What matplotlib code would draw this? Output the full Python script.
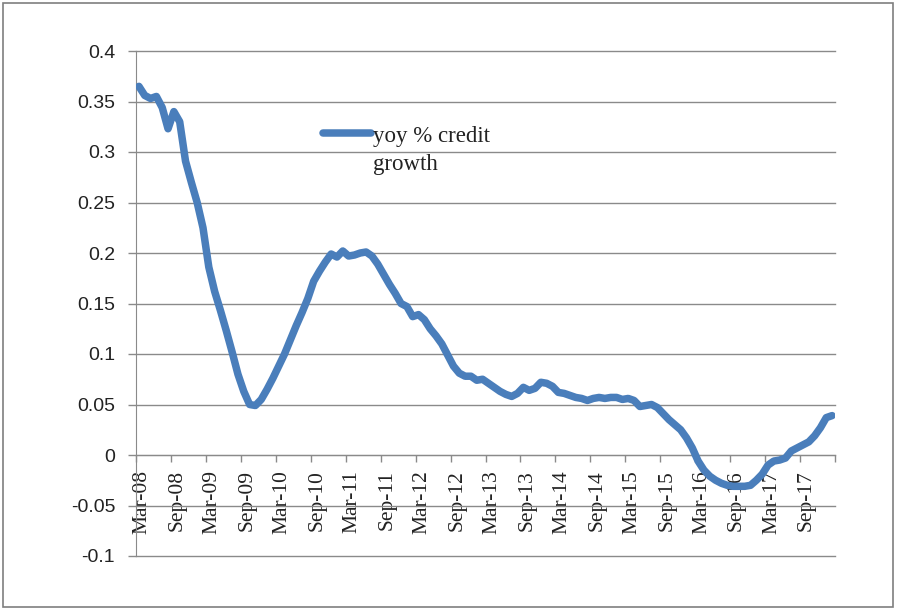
import matplotlib
matplotlib.use("Agg")
import matplotlib.pyplot as plt
import matplotlib.transforms as mtransforms
from matplotlib.lines import Line2D
from matplotlib.patches import Rectangle
import numpy as np

# monthly year-on-year credit growth, Mar-08 .. Feb-18
credit_growth = [
    0.365, 0.356, 0.353, 0.355, 0.344, 0.323, 0.340, 0.330, 0.291, 0.270,
    0.250, 0.225, 0.186, 0.162, 0.143, 0.123, 0.102, 0.080, 0.063, 0.050,
    0.049, 0.055, 0.065, 0.076, 0.088, 0.100, 0.114, 0.128, 0.141, 0.155,
    0.172, 0.182, 0.191, 0.199, 0.196, 0.202, 0.197, 0.198, 0.200, 0.201,
    0.197, 0.189, 0.179, 0.169, 0.160, 0.150, 0.147, 0.137, 0.139, 0.134,
    0.125, 0.118, 0.110, 0.099, 0.088, 0.081, 0.078, 0.078, 0.074, 0.075,
    0.071, 0.067, 0.063, 0.060, 0.058, 0.061, 0.067, 0.064, 0.066, 0.072,
    0.071, 0.068, 0.062, 0.061, 0.059, 0.057, 0.056, 0.054, 0.056, 0.057,
    0.056, 0.057, 0.057, 0.055, 0.056, 0.054, 0.048, 0.049, 0.050, 0.047,
    0.041, 0.035, 0.030, 0.025, 0.017, 0.007, -0.006, -0.015, -0.021, -0.025,
    -0.028, -0.030, -0.031, -0.031, -0.031, -0.030, -0.025, -0.019, -0.010, -0.006,
    -0.005, -0.003, 0.004, 0.007, 0.010, 0.013, 0.019, 0.027, 0.037, 0.039,
]
tick_labels = ["Mar-08", "Sep-08", "Mar-09", "Sep-09", "Mar-10", "Sep-10",
               "Mar-11", "Sep-11", "Mar-12", "Sep-12", "Mar-13", "Sep-13",
               "Mar-14", "Sep-14", "Mar-15", "Sep-15", "Mar-16", "Sep-16",
               "Mar-17", "Sep-17"]
y_ticks = [-0.1, -0.05, 0, 0.05, 0.1, 0.15, 0.2, 0.25, 0.3, 0.35, 0.4]
series_name = "yoy % credit\ngrowth"

blue = "#4a7ebb"
grid_col = "#8a8a8a"
serif = ["Liberation Serif", "DejaVu Serif"]

fig = plt.figure(figsize=(8.98, 6.10), dpi=100)
ax = fig.add_axes([136 / 898, 54 / 610, 699 / 898, 505 / 610])

months = np.arange(len(credit_growth))
ax.plot(months, credit_growth, color=blue, lw=5.4, solid_capstyle="round",
        solid_joinstyle="round", zorder=3)

ax.set_xlim(-0.5, len(credit_growth) - 0.5)
ax.set_ylim(-0.1, 0.4)

# horizontal gridlines
ax.set_yticks(y_ticks)
ax.set_yticklabels(["-0.1", "-0.05", "0", "0.05", "0.1", "0.15", "0.2",
                    "0.25", "0.3", "0.35", "0.4"])
ax.yaxis.grid(True, color=grid_col, lw=1.0)
for gl in ax.get_ygridlines():
    gl.set_clip_on(False)
ax.set_axisbelow(True)
ax.tick_params(axis="y", length=6, width=1, color=grid_col, pad=9,
               labelsize=14)
for lbl in ax.get_yticklabels():
    lbl.set_family(["Liberation Sans", "DejaVu Sans"])
    lbl.set_color("#222222")

# category axis crosses at zero
for side in ("top", "right"):
    ax.spines[side].set_visible(False)
ax.spines["left"].set_color(grid_col)
ax.spines["bottom"].set_color(grid_col)
ax.spines["bottom"].set_position(("data", 0))

label_pos = np.arange(0, len(credit_growth), 6)
ax.set_xticks(label_pos)
ax.set_xticklabels(tick_labels, rotation=90, family=serif, fontsize=15.5,
                   color="#222222")
ax.set_xticks(np.arange(-0.5, len(credit_growth), 6), minor=True)
ax.tick_params(axis="x", which="major", length=0, pad=11)
ax.tick_params(axis="x", which="minor", length=5, width=1, color=grid_col)
shift = mtransforms.ScaledTranslation(3.5 / 100, 0, fig.dpi_scale_trans)
for lbl in ax.get_xticklabels():
    lbl.set_transform(lbl.get_transform() + shift)

# legend key with wrapped label
fig.add_artist(Line2D([323 / 898, 371 / 898], [1 - 133 / 610, 1 - 133 / 610],
                      color=blue, lw=5.4, solid_capstyle="round"))
fig.text(373 / 898, 1 - 170 / 610, series_name, family=serif, fontsize=16.5,
         va="baseline", ha="left", color="#222222", linespacing=1.45)

# outer frame
fig.add_artist(Rectangle((3 / 898, 3 / 610), 890 / 898, 604 / 610,
                         transform=fig.transFigure, fill=False,
                         edgecolor="#7f7f7f", lw=1.2))

fig.savefig("out.png", dpi=100)
